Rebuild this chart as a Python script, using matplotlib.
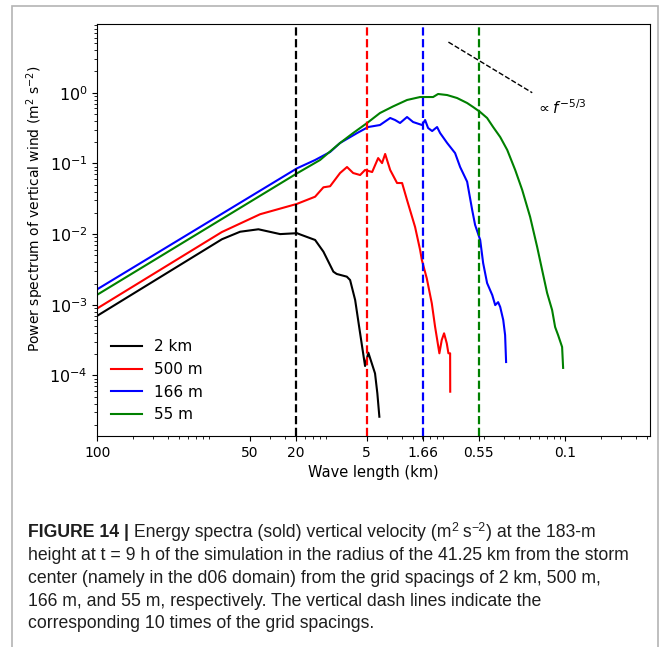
import matplotlib
matplotlib.use("Agg")
import matplotlib.pyplot as plt
from matplotlib.patches import Rectangle

# ---------------- data (wavenumber 1/km, power m^2 s^-2) ----------------
k_2km = [0.001, 0.0116, 0.0166, 0.0238, 0.0365, 0.0509, 0.0540, 0.0726, 0.0855,
         0.104, 0.111, 0.1355, 0.1445, 0.1596, 0.176, 0.194, 0.207, 0.236, 0.247, 0.257]
P_2km = [7.0e-4, 8.45e-3, 1.08e-2, 1.17e-2, 1.0e-2, 1.03e-2, 9.9e-3, 8.26e-3, 5.64e-3,
         2.94e-3, 2.73e-3, 2.50e-3, 2.24e-3, 1.17e-3, 3.95e-4, 1.36e-4, 2.10e-4, 1.07e-4,
         5.6e-5, 2.61e-5]

k_500m = [0.001, 0.0116, 0.0246, 0.0506, 0.0726, 0.0855, 0.0975, 0.1186, 0.136, 0.1535,
          0.176, 0.194, 0.223, 0.251, 0.271, 0.288, 0.318, 0.364, 0.402, 0.443, 0.519,
          0.573, 0.593, 0.653, 0.721, 0.769, 0.837, 0.877, 0.918, 0.968, 1.0, 1.034, 1.036]
P_500m = [8.9e-4, 1.07e-2, 1.91e-2, 2.67e-2, 3.38e-2, 4.59e-2, 4.75e-2, 7.31e-2, 8.89e-2,
          7.31e-2, 6.85e-2, 8.07e-2, 7.55e-2, 0.119, 0.101, 0.136, 8.07e-2, 5.28e-2,
          5.28e-2, 3.03e-2, 1.26e-2, 5.96e-3, 4.30e-3, 2.37e-3, 1.05e-3, 4.90e-4, 2.06e-4,
          3.18e-4, 3.95e-4, 2.85e-4, 2.06e-4, 2.06e-4, 5.9e-5]

k_166m = [0.001, 0.0509, 0.0726, 0.0975, 0.1186, 0.166, 0.206, 0.260, 0.318, 0.350,
          0.386, 0.443, 0.499, 0.596, 0.632, 0.670, 0.726, 0.800, 0.849, 0.975, 1.14,
          1.259, 1.445, 1.596, 1.69, 1.868, 1.98, 2.14, 2.37, 2.51, 2.66, 2.77,
          2.94, 3.05, 3.11]
P_166m = [1.66e-3, 8.53e-2, 0.1117, 0.145, 0.1945, 0.269, 0.327, 0.349, 0.439, 0.411,
          0.373, 0.453, 0.385, 0.349, 0.411, 0.317, 0.287, 0.327, 0.269, 0.1945, 0.140,
          8.89e-2, 5.51e-2, 2.19e-2, 1.35e-2, 8.26e-3, 3.89e-3, 2.03e-3, 1.37e-3,
          9.9e-4, 1.09e-3, 9.3e-4, 6.1e-4, 3.73e-4, 1.55e-4]

k_55m = [0.001, 0.0509, 0.080, 0.1186, 0.1535, 0.202, 0.260, 0.3365, 0.443, 0.573,
         0.740, 0.816, 0.975, 1.186, 1.445, 1.625, 1.868, 2.14, 2.41, 2.77, 3.18, 3.72,
         4.27, 4.99, 5.73, 6.32, 6.97, 7.69, 8.16, 8.65, 9.36, 9.55]
P_55m = [1.39e-3, 7.24e-2, 0.1117, 0.1945, 0.269, 0.373, 0.516, 0.640, 0.789, 0.869,
         0.869, 0.959, 0.927, 0.841, 0.715, 0.628, 0.533, 0.439, 0.327, 0.236, 0.155,
         8.07e-2, 4.21e-2, 1.75e-2, 6.58e-3, 3.10e-3, 1.47e-3, 8.43e-4, 4.84e-4, 3.73e-4,
         2.53e-4, 1.28e-4]

series_labels = ["2 km", "500 m", "166 m", "55 m"]
series_colors = ["k", "r", "b", "g"]
cutoff_wavelength_km = [20, 5, 1.66, 0.55]

tick_wavenumber = [0.001, 0.02, 0.05, 0.2, 1 / 1.66, 1 / 0.55, 10]
tick_labels = ["100", "50", "20", "5", "1.66", "0.55", "0.1"]

ref_k = [1.0, 5.2]
ref_P = [5.2, 1.0]
ref_label_k, ref_label_P = 5.6, 0.62

caption_lines = [
    None,
    "height at t = 9 h of the simulation in the radius of the 41.25 km from the storm",
    "center (namely in the d06 domain) from the grid spacings of 2 km, 500 m,",
    "166 m, and 55 m, respectively. The vertical dash lines indicate the",
    "corresponding 10 times of the grid spacings.",
]

# ---------------- figure ----------------
W, H = 662, 647
fig = plt.figure(figsize=(W / 100, H / 100), dpi=100)
ax = fig.add_axes([97.3 / W, 1 - 436 / H, (649.5 - 97.3) / W, (436 - 24) / H])

all_k = [k_2km, k_500m, k_166m, k_55m]
all_P = [P_2km, P_500m, P_166m, P_55m]
for k, P, lab, c in zip(all_k, all_P, series_labels, series_colors):
    ax.plot(k, P, color=c, lw=1.5, label=lab)

for wl, c in zip(cutoff_wavelength_km, series_colors):
    ax.axvline(1 / wl, color=c, ls="--", lw=1.6)

ax.plot(ref_k, ref_P, color="k", ls="--", lw=1.0)
ax.text(ref_label_k, ref_label_P, r"$\propto f^{-5/3}$", fontsize=11,
        ha="left", va="center")

ax.set_xscale("log")
ax.set_yscale("log")
ax.set_xlim(1e-3, 10 ** 1.718)
ax.set_ylim(10 ** -4.856, 10 ** 0.972)
ax.set_xticks(tick_wavenumber)
ax.set_xticklabels(tick_labels)
ax.tick_params(axis="x", labelsize=10)
ax.tick_params(axis="y", labelsize=11.5)
ax.set_xlabel("Wave length (km)", fontsize=10.5)
ax.set_ylabel("Power spectrum of vertical wind (m$^2$ s$^{-2}$)", fontsize=10)
ax.yaxis.set_label_coords(-0.0925, 0.551)
ax.legend(loc="lower left", frameon=False, fontsize=11)

# border frame
fig.add_artist(Rectangle((12 / W, -0.05), (658 - 12) / W, 1.05 - 6 / H,
                         transform=fig.transFigure, fill=False,
                         edgecolor="#b4b4b4", lw=1.2, clip_on=False))

# ---------------- caption ----------------
cap_family = ["Liberation Sans Narrow", "Liberation Sans", "DejaVu Sans"]
renderer = fig.canvas.get_renderer()
tmp = fig.text(0, 0, caption_lines[1], fontsize=10, family=cap_family)
w10 = tmp.get_window_extent(renderer).width
tmp.remove()
fs = 10 * (632 - 27.7) / w10

x0 = 27.7 / W
baselines = [537, 560, 583, 605.5, 628]
col = "#1e1e1e"
t0 = fig.text(x0, 1 - baselines[0] / H, "FIGURE 14 |", fontsize=fs,
              weight="bold", family=cap_family, va="baseline", color=col)
t1 = ax.annotate(" Energy spectra (sold) vertical velocity (m", xy=(1, 0), xycoords=t0,
                 va="bottom", ha="left", fontsize=fs, family=cap_family, color=col)
s1 = ax.annotate("2", xy=(1, 1.12), xycoords=t1, va="top", ha="left",
                 fontsize=fs * 0.7, family=cap_family, color=col)
t2 = ax.annotate(" s", xy=(1, 0), xycoords=(s1, t1), va="bottom", ha="left",
                 fontsize=fs, family=cap_family, color=col)
s2 = ax.annotate("\u22122", xy=(1, 1.12), xycoords=t2, va="top", ha="left",
                 fontsize=fs * 0.7, family=cap_family, color=col)
t3 = ax.annotate(") at the 183-m", xy=(1, 0), xycoords=(s2, t2), va="bottom", ha="left",
                 fontsize=fs, family=cap_family, color=col)
for line, yb in zip(caption_lines[1:], baselines[1:]):
    fig.text(x0, 1 - yb / H, line, fontsize=fs, family=cap_family,
             va="baseline", color=col)

fig.savefig("out.png", dpi=100)
